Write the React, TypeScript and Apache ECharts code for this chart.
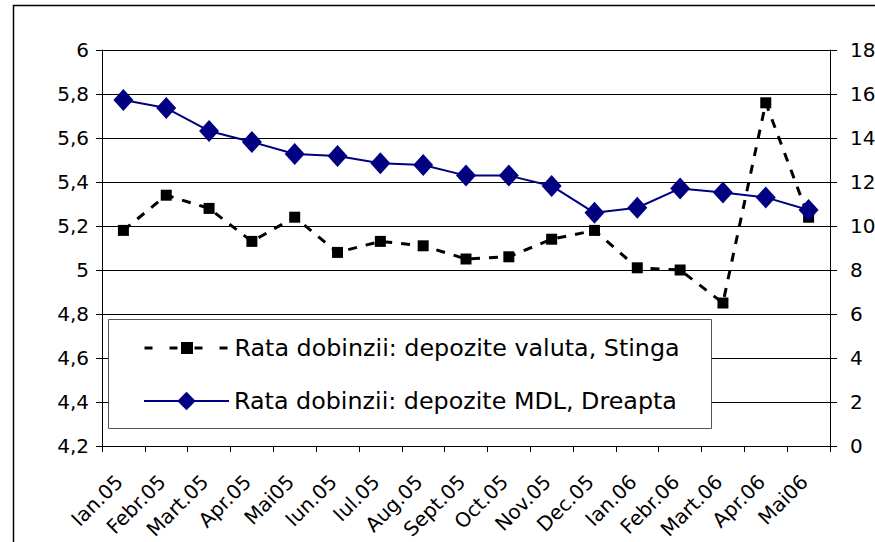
import React, { useEffect, useRef } from 'react';
import * as echarts from 'echarts';

const categories = ['Ian.05', 'Febr.05', 'Mart.05', 'Apr.05', 'Mai05', 'Iun.05', 'Iul.05', 'Aug.05', 'Sept.05', 'Oct.05', 'Nov.05', 'Dec.05', 'Ian.06', 'Febr.06', 'Mart.06', 'Apr.06', 'Mai06'];
const valutaValues = [5.18, 5.34, 5.28, 5.13, 5.24, 5.08, 5.13, 5.11, 5.05, 5.06, 5.14, 5.18, 5.01, 5.0, 4.85, 5.76, 5.24];
const mdlValues = [15.73, 15.36, 14.32, 13.82, 13.27, 13.18, 12.85, 12.77, 12.29, 12.29, 11.82, 10.6, 10.83, 11.71, 11.52, 11.3, 10.73];
const leftTickLabels = ['4,2', '4,4', '4,6', '4,8', '5', '5,2', '5,4', '5,6', '5,8', '6'];
const rightTickLabels = ['0', '2', '4', '6', '8', '10', '12', '14', '16', '18'];
const seriesNames = ['Rata dobinzii: depozite valuta, Stinga', 'Rata dobinzii: depozite MDL, Dreapta'];

const FONT = 'DejaVu Sans';

export default function App() {
  const ref = useRef<HTMLDivElement>(null);
  useEffect(() => {
    document.body.style.margin = '0';
    if (!ref.current) return;
    const chart = echarts.init(ref.current, undefined, { renderer: 'svg' });
    const leftMin = 4.2, leftInt = 0.2, rightMin = 0, rightInt = 2;
    chart.setOption({
      animation: false,
      backgroundColor: '#fff',
      grid: { left: 102, right: 45, top: 50, bottom: 96, containLabel: false, outerBoundsMode: 'none' },
      xAxis: {
        type: 'category',
        data: categories,
        boundaryGap: true,
        axisLine: { show: true, lineStyle: { color: '#000', width: 1 } },
        axisTick: { show: true, length: 6, lineStyle: { color: '#000' } },
        axisLabel: { rotate: 45, margin: 28, padding: [0, 6, 0, 0], interval: 0, fontFamily: FONT, fontSize: 20, color: '#000' },
        splitLine: { show: false },
      },
      yAxis: [
        {
          type: 'value',
          position: 'left',
          min: leftMin,
          max: 6,
          interval: leftInt,
          axisLine: { show: true, lineStyle: { color: '#000', width: 1 } },
          axisTick: { show: true, length: 6, lineStyle: { color: '#000' } },
          axisLabel: {
            margin: 13,
            fontFamily: FONT,
            fontSize: 20,
            color: '#000',
            formatter: (v: number) => leftTickLabels[Math.round((v - leftMin) / leftInt)] ?? '',
          },
          splitLine: { show: true, lineStyle: { color: '#000', width: 1 } },
        },
        {
          type: 'value',
          position: 'right',
          min: rightMin,
          max: 18,
          interval: rightInt,
          axisLine: { show: true, lineStyle: { color: '#000', width: 1 } },
          axisTick: { show: true, length: 7, lineStyle: { color: '#000' } },
          axisLabel: {
            margin: 20,
            fontFamily: FONT,
            fontSize: 20,
            color: '#000',
            formatter: (v: number) => rightTickLabels[Math.round((v - rightMin) / rightInt)] ?? '',
          },
          splitLine: { show: false },
        },
      ],
      legend: [
        {
          data: [seriesNames[0]],
          left: 143,
          top: 334,
          padding: 0,
          itemWidth: 85,
          itemHeight: 15,
          selectedMode: false,
          lineStyle: { width: 3, type: [8, 17], color: '#000' },
          textStyle: { fontFamily: FONT, fontSize: 23.8, color: '#000', lineHeight: 28 },
        },
        {
          data: [seriesNames[1]],
          left: 143,
          top: 387,
          padding: 0,
          itemWidth: 85,
          itemHeight: 23,
          selectedMode: false,
          lineStyle: { width: 2, type: 'solid', color: '#000080' },
          textStyle: { fontFamily: FONT, fontSize: 23.8, color: '#000', lineHeight: 28 },
        },
      ],
      graphic: [
        {
          type: 'rect',
          silent: true,
          z: 0,
          shape: { x: 13.5, y: 5.5, width: 1000, height: 1000 },
          style: { fill: 'none', stroke: '#000', lineWidth: 1.5 },
        },
        {
          type: 'rect',
          silent: true,
          z: 1,
          shape: { x: 108.5, y: 319.5, width: 603, height: 109 },
          style: { fill: '#fff', stroke: '#555', lineWidth: 1 },
        },
      ],
      series: [
        {
          name: seriesNames[0],
          type: 'line',
          yAxisIndex: 0,
          data: valutaValues,
          symbol: 'rect',
          symbolSize: 11,
          itemStyle: { color: '#000' },
          lineStyle: { color: '#000', width: 3, type: [9, 9] },
          z: 2,
        },
        {
          name: seriesNames[1],
          type: 'line',
          yAxisIndex: 1,
          data: mdlValues,
          symbol: 'diamond',
          symbolSize: [20, 22],
          itemStyle: { color: '#000080' },
          lineStyle: { color: '#000080', width: 2 },
          z: 3,
        },
      ],
    });
    return () => chart.dispose();
  }, []);
  return <div ref={ref} style={{ width: 875, height: 542 }} />;
}
